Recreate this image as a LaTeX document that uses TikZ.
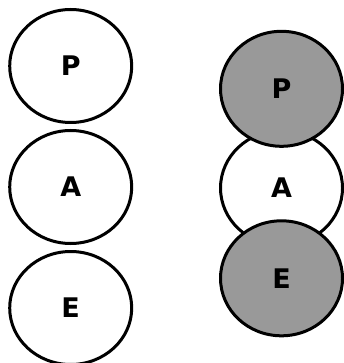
\documentclass[tikz,border=0pt]{standalone}
\usepackage{fontspec}
\setmainfont{DejaVu Sans}
\usetikzlibrary{shapes.geometric}
\newcommand{\lbl}[1]{{\fontsize{27}{32}\selectfont\bfseries #1}}
\begin{document}
\begin{tikzpicture}[x=1pt,y=-1pt]
\tikzset{
  circ/.style={ellipse,draw=black,line width=3pt,minimum width=122pt,minimum height=113pt,inner sep=0pt},
  whitec/.style={circ,fill=white},
  grayc/.style={circ,fill=black!40,minimum height=115pt}
}
\useasboundingbox (0,0) rectangle (344,363);
\node[whitec] (lp) at (70.7,66) {\lbl{P}};
\node[whitec] (la) at (70.7,187) {\lbl{A}};
\node[whitec] (le) at (70.7,308) {\lbl{E}};
\node[whitec,minimum height=115pt] (ra) at (281.5,188) {\lbl{A}};
\node[grayc] (rp) at (281.5,88.8) {\raisebox{-2.5pt}{\lbl{P}}};
\node[grayc] (re) at (281.5,278.3) {\lbl{E}};
\end{tikzpicture}
\end{document}
